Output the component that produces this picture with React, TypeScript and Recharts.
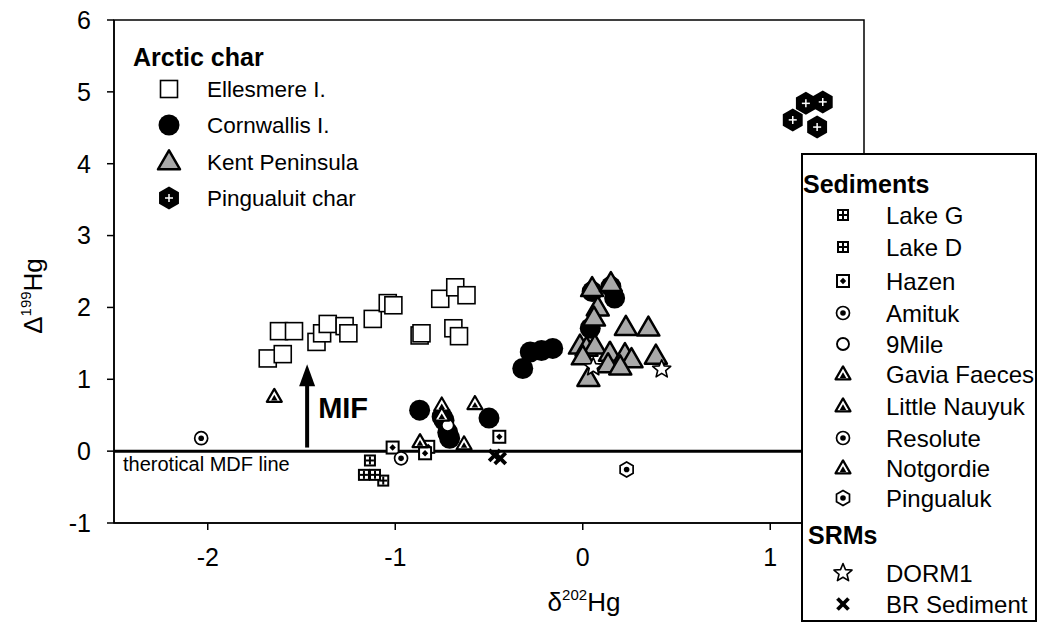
import React from 'react';
import {
  ScatterChart,
  Scatter,
  XAxis,
  YAxis,
  ReferenceLine,
  ReferenceArea,
  ReferenceDot,
} from 'recharts';

const FONT = '"Liberation Sans", Arial, Helvetica, sans-serif';

// values: x = delta202Hg, y = Delta199Hg
const ellesmere = [
  { x: -1.68, y: 1.29 }, { x: -1.6, y: 1.35 }, { x: -1.62, y: 1.67 }, { x: -1.54, y: 1.67 },
  { x: -1.42, y: 1.52 }, { x: -1.39, y: 1.64 }, { x: -1.36, y: 1.77 }, { x: -1.27, y: 1.74 },
  { x: -1.25, y: 1.64 }, { x: -1.12, y: 1.84 }, { x: -1.04, y: 2.06 }, { x: -1.01, y: 2.03 },
  { x: -0.87, y: 1.61 }, { x: -0.86, y: 1.64 }, { x: -0.76, y: 2.12 }, { x: -0.68, y: 2.28 },
  { x: -0.62, y: 2.17 }, { x: -0.69, y: 1.71 }, { x: -0.66, y: 1.6 },
];
const cornwallis = [
  { x: -0.87, y: 0.57 }, { x: -0.75, y: 0.48 }, { x: -0.74, y: 0.43 }, { x: -0.72, y: 0.26 },
  { x: -0.71, y: 0.18 }, { x: -0.5, y: 0.46 }, { x: -0.32, y: 1.15 }, { x: -0.28, y: 1.38 },
  { x: -0.22, y: 1.4 }, { x: -0.16, y: 1.43 }, { x: 0.04, y: 1.71 }, { x: 0.05, y: 2.22 },
  { x: 0.15, y: 2.29 }, { x: 0.17, y: 2.13 },
];
const kent = [
  { x: 0.05, y: 2.26 }, { x: 0.15, y: 2.33 }, { x: 0.08, y: 1.99 }, { x: 0.06, y: 1.85 },
  { x: 0.23, y: 1.72 }, { x: 0.35, y: 1.71 }, { x: -0.015, y: 1.46 }, { x: 0.02, y: 1.43 },
  { x: 0.065, y: 1.46 }, { x: 0.0, y: 1.31 }, { x: 0.145, y: 1.36 }, { x: 0.225, y: 1.34 },
  { x: 0.26, y: 1.27 }, { x: 0.135, y: 1.2 }, { x: 0.2, y: 1.17 }, { x: 0.39, y: 1.32 },
  { x: 0.03, y: 1.01 },
];
const pingualuitChar = [
  { x: 1.19, y: 4.84 }, { x: 1.28, y: 4.86 }, { x: 1.12, y: 4.61 }, { x: 1.25, y: 4.51 },
];
const lakeG = [{ x: -1.135, y: -0.13 }, { x: -1.064, y: -0.41 }];
const lakeD = [{ x: -1.167, y: -0.33 }, { x: -1.108, y: -0.33 }];
const hazen = [{ x: -1.014, y: 0.05 }, { x: -0.824, y: 0.06 }, { x: -0.841, y: -0.03 }, { x: -0.445, y: 0.2 }];
const amituk = [{ x: -0.969, y: -0.1 }];
const nineMile = [{ x: -0.72, y: 0.36 }];
const gaviaFaeces = [{ x: -1.645, y: 0.76 }, { x: -0.575, y: 0.66 }];
const littleNauyuk = [{ x: -0.752, y: 0.64 }, { x: -0.752, y: 0.5 }];
const resolute = [{ x: -2.035, y: 0.18 }];
const notgordie = [{ x: -0.868, y: 0.13 }, { x: -0.633, y: 0.1 }];
const pingualuk = [{ x: 0.234, y: -0.255 }];
const dorm1 = [{ x: 0.056, y: 1.17 }, { x: 0.421, y: 1.14 }];
const brSediment = [{ x: -0.47, y: -0.06 }, { x: -0.44, y: -0.1 }];

const xTicks = [-2, -1, 0, 1];
const yTicks = [-1, 0, 1, 2, 3, 4, 5, 6];

type Kind =
  | 'openSquare' | 'disc' | 'grayTri' | 'hexCross' | 'sqCross' | 'sqDot'
  | 'ringDot' | 'openCircle' | 'triDot' | 'hexDot' | 'star' | 'cross';

const arcticSeries: { name: string; data: { x: number; y: number }[]; kind: Kind }[] = [
  { name: 'Ellesmere I.', data: ellesmere, kind: 'openSquare' },
  { name: 'Cornwallis I.', data: cornwallis, kind: 'disc' },
  { name: 'Kent Peninsula', data: kent, kind: 'grayTri' },
  { name: 'Pingualuit char', data: pingualuitChar, kind: 'hexCross' },
];
const sedimentSeries: { name: string; data: { x: number; y: number }[]; kind: Kind }[] = [
  { name: 'Lake G', data: lakeG, kind: 'sqCross' },
  { name: 'Lake D', data: lakeD, kind: 'sqCross' },
  { name: 'Hazen', data: hazen, kind: 'sqDot' },
  { name: 'Amituk', data: amituk, kind: 'ringDot' },
  { name: '9Mile', data: nineMile, kind: 'openCircle' },
  { name: 'Gavia Faeces', data: gaviaFaeces, kind: 'triDot' },
  { name: 'Little Nauyuk', data: littleNauyuk, kind: 'triDot' },
  { name: 'Resolute', data: resolute, kind: 'ringDot' },
  { name: 'Notgordie', data: notgordie, kind: 'triDot' },
  { name: 'Pingualuk', data: pingualuk, kind: 'hexDot' },
];
const srmSeries: { name: string; data: { x: number; y: number }[]; kind: Kind }[] = [
  { name: 'DORM1', data: dorm1, kind: 'star' },
  { name: 'BR Sediment', data: brSediment, kind: 'cross' },
];

const hexPts = (cx: number, cy: number, r: number) =>
  [0, 1, 2, 3, 4, 5]
    .map((i) => {
      const a = (Math.PI / 180) * (60 * i - 90);
      return `${cx + r * Math.cos(a)},${cy + r * Math.sin(a)}`;
    })
    .join(' ');

const triPts = (cx: number, cy: number, s: number) => {
  const h = (s * Math.sqrt(3)) / 2;
  return `${cx},${cy - (h * 2) / 3} ${cx - s / 2},${cy + h / 3} ${cx + s / 2},${cy + h / 3}`;
};

const starPts = (cx: number, cy: number, ro: number, ri: number) => {
  const pts: string[] = [];
  for (let i = 0; i < 10; i++) {
    const r = i % 2 === 0 ? ro : ri;
    const a = (Math.PI / 180) * (36 * i - 90);
    pts.push(`${cx + r * Math.cos(a)},${cy + r * Math.sin(a)}`);
  }
  return pts.join(' ');
};

const Marker = ({ kind, cx, cy }: { kind: Kind; cx: number; cy: number }) => {
  if (cx == null || cy == null) return null;
  switch (kind) {
    case 'openSquare':
      return <rect x={cx - 8.5} y={cy - 8.5} width={17} height={17} fill="#fff" stroke="#000" strokeWidth={1.6} />;
    case 'disc':
      return <circle cx={cx} cy={cy} r={10.5} fill="#000" />;
    case 'grayTri':
      return <polygon points={triPts(cx, cy + 1, 22)} fill="#a9a9a9" stroke="#000" strokeWidth={2.5} strokeLinejoin="round" />;
    case 'hexCross':
      return (
        <g>
          <polygon points={hexPts(cx, cy, 11.5)} fill="#000" />
          <line x1={cx - 4} y1={cy} x2={cx + 4} y2={cy} stroke="#fff" strokeWidth={1.5} />
          <line x1={cx} y1={cy - 4} x2={cx} y2={cy + 4} stroke="#fff" strokeWidth={1.5} />
        </g>
      );
    case 'sqCross':
      return (
        <g>
          <rect x={cx - 6} y={cy - 6} width={12} height={12} fill="#000" />
          <rect x={cx - 4} y={cy - 4} width={8} height={8} fill="#fff" />
          <line x1={cx - 4} y1={cy} x2={cx + 4} y2={cy} stroke="#000" strokeWidth={2} />
          <line x1={cx} y1={cy - 4} x2={cx} y2={cy + 4} stroke="#000" strokeWidth={2} />
        </g>
      );
    case 'sqDot':
      return (
        <g>
          <rect x={cx - 6} y={cy - 6} width={12} height={12} fill="#fff" stroke="#000" strokeWidth={2} />
          <polygon points={`${cx},${cy - 3.2} ${cx + 3.2},${cy} ${cx},${cy + 3.2} ${cx - 3.2},${cy}`} fill="#000" />
        </g>
      );
    case 'ringDot':
      return (
        <g>
          <circle cx={cx} cy={cy} r={6.5} fill="#fff" stroke="#000" strokeWidth={1.7} />
          <circle cx={cx} cy={cy} r={2.8} fill="#000" />
        </g>
      );
    case 'openCircle':
      return <circle cx={cx} cy={cy} r={6} fill="#fff" stroke="#000" strokeWidth={1.9} />;
    case 'triDot':
      return (
        <g>
          <polygon points={triPts(cx, cy + 1, 15)} fill="#fff" stroke="#000" strokeWidth={2.2} strokeLinejoin="round" />
          <polygon points={triPts(cx, cy + 2, 6.5)} fill="#000" />
        </g>
      );
    case 'hexDot':
      return (
        <g>
          <polygon points={hexPts(cx, cy, 7.5)} fill="#fff" stroke="#000" strokeWidth={1.7} />
          <circle cx={cx} cy={cy} r={2.8} fill="#000" />
        </g>
      );
    case 'star':
      return <polygon points={starPts(cx, cy, 9.5, 4.2)} fill="#fff" stroke="#000" strokeWidth={1.6} strokeLinejoin="round" />;
    case 'cross':
      return (
        <g stroke="#000" strokeWidth={3.8}>
          <line x1={cx - 5.5} y1={cy - 5.5} x2={cx + 5.5} y2={cy + 5.5} />
          <line x1={cx - 5.5} y1={cy + 5.5} x2={cx + 5.5} y2={cy - 5.5} />
        </g>
      );
    default:
      return null;
  }
};

const drawOrder = [
  arcticSeries[1], arcticSeries[2], arcticSeries[0], arcticSeries[3],
  ...sedimentSeries, ...srmSeries,
];

const MdfLabel = (props: any) => {
  const vb = props.viewBox || {};
  return (
    <text x={vb.x + 9} y={vb.y + 20} fontSize={20} fontFamily={FONT} fill="#000">
      therotical MDF line
    </text>
  );
};

const ArrowHead = (props: any) => {
  const { cx, cy } = props;
  if (cx == null || cy == null) return null;
  return (
    <g>
      <polygon points={`${cx},${cy} ${cx - 8},${cy + 22} ${cx + 8},${cy + 22}`} fill="#000" />
      <text x={cx + 11} y={cy + 54} fontSize={29} fontWeight="bold" fontFamily={FONT} fill="#000">
        MIF
      </text>
    </g>
  );
};

const tickStyle = { fill: '#000', fontSize: 25, fontFamily: FONT };

const App = () => {
  const rowsRight: { label: string; kind?: Kind; y: number; title?: boolean }[] = [];
  rowsRight.push({ label: 'Sediments', y: 184, title: true });
  const sedY = [215, 247, 281, 313, 344, 374, 406, 438, 468, 498];
  sedimentSeries.forEach((s, i) => rowsRight.push({ label: s.name, kind: s.kind, y: sedY[i] }));
  rowsRight.push({ label: 'SRMs', y: 535, title: true });
  const srmY = [573, 604];
  srmSeries.forEach((s, i) => rowsRight.push({ label: s.name, kind: s.kind, y: srmY[i] }));

  const arcticY = [89, 125, 162, 198];

  return (
    <div style={{ position: 'absolute', left: 0, top: 0, width: 1038, height: 624, background: '#fff', fontFamily: FONT }}>
      <ScatterChart width={1038} height={624} margin={{ top: 20, right: 174, bottom: 41, left: 54 }}>
        <XAxis
          type="number"
          dataKey="x"
          domain={[-2.5, 1.5]}
          ticks={xTicks}
          height={60}
          tick={tickStyle}
          tickSize={7}
          tickMargin={18}
          axisLine={{ stroke: '#000', strokeWidth: 1.5 }}
          tickLine={{ stroke: '#000', strokeWidth: 1.5 }}
          allowDataOverflow
        />
        <YAxis
          type="number"
          dataKey="y"
          domain={[-1, 6]}
          ticks={yTicks}
          width={60}
          tick={tickStyle}
          tickSize={7}
          tickMargin={16}
          axisLine={{ stroke: '#000', strokeWidth: 1.5 }}
          tickLine={{ stroke: '#000', strokeWidth: 1.5 }}
          allowDataOverflow
        />
        <ReferenceArea x1={-2.5} x2={1.5} y1={-1} y2={6} fill="none" stroke="#000" strokeWidth={1.5} />
        <ReferenceLine y={0} stroke="#000" strokeWidth={3} label={<MdfLabel />} />
        <ReferenceLine
          segment={[{ x: -1.47, y: 0.05 }, { x: -1.47, y: 0.95 }]}
          stroke="#000"
          strokeWidth={4}
        />
        <ReferenceDot x={-1.47} y={1.21} r={0} shape={<ArrowHead />} />
        {drawOrder.map((s) => (
          <Scatter
            key={s.name}
            name={s.name}
            data={s.data}
            isAnimationActive={false}
            shape={(p: any) => <Marker kind={s.kind} cx={p.cx} cy={p.cy} />}
          />
        ))}
      </ScatterChart>

      <svg width={1038} height={624} style={{ position: 'absolute', left: 0, top: 0, pointerEvents: 'none' }}>
        {/* axis titles */}
        <text
          transform="translate(42,296) rotate(-90)"
          textAnchor="middle"
          fontSize={26}
          fontFamily={FONT}
          fill="#000"
        >
          <tspan>Δ</tspan>
          <tspan fontSize={15} dy={-11}>199</tspan>
          <tspan dy={11}>Hg</tspan>
        </text>
        <text x={584} y={611} textAnchor="middle" fontSize={26} fontFamily={FONT} fill="#000">
          <tspan>δ</tspan>
          <tspan fontSize={15} dy={-11}>202</tspan>
          <tspan dy={11}>Hg</tspan>
        </text>

        {/* Arctic char legend */}
        <text x={133} y={57} dominantBaseline="central" fontSize={25} fontWeight="bold" fontFamily={FONT} fill="#000">
          Arctic char
        </text>
        {arcticSeries.map((s, i) => (
          <g key={s.name}>
            <Marker kind={s.kind} cx={169} cy={arcticY[i]} />
            <text x={207} y={arcticY[i]} dominantBaseline="central" fontSize={22.5} fontFamily={FONT} fill="#000">
              {s.name}
            </text>
          </g>
        ))}

        {/* Sediments / SRMs legend */}
        <rect x={802} y={154} width={234} height={467} fill="#fff" stroke="#000" strokeWidth={2} />
        {rowsRight.map((r) =>
          r.title ? (
            <text
              key={r.label}
              x={r.label === 'SRMs' ? 808 : 803}
              y={r.y}
              dominantBaseline="central"
              fontSize={25}
              fontWeight="bold"
              fontFamily={FONT}
              fill="#000"
            >
              {r.label}
            </text>
          ) : (
            <g key={r.label}>
              <Marker kind={r.kind as Kind} cx={843} cy={r.y} />
              <text x={886} y={r.y} dominantBaseline="central" fontSize={24} fontFamily={FONT} fill="#000">
                {r.label}
              </text>
            </g>
          )
        )}
      </svg>
    </div>
  );
};

export default App;
